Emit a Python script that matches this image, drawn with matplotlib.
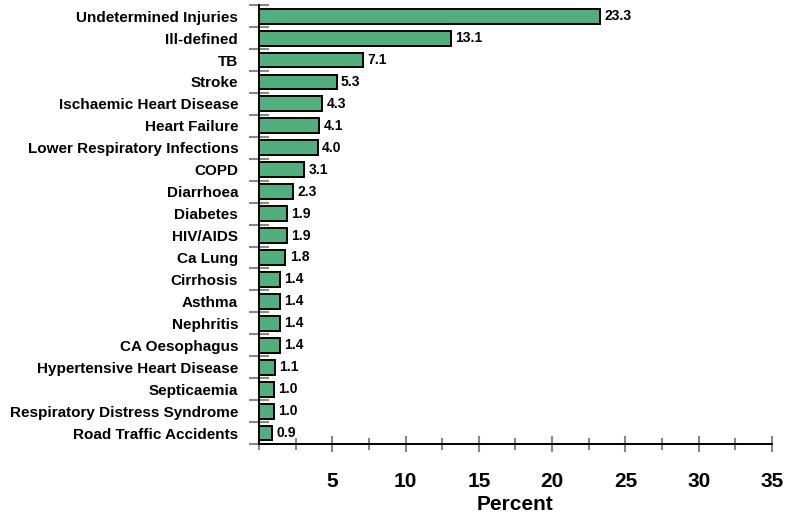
import matplotlib.pyplot as plt
from matplotlib.ticker import MultipleLocator, FixedLocator
import numpy as np

causes = ["Undetermined Injuries", "Ill-defined", "TB", "Stroke",
          "Ischaemic Heart Disease", "Heart Failure", "Lower Respiratory Infections",
          "COPD", "Diarrhoea", "Diabetes", "HIV/AIDS", "Ca Lung", "Cirrhosis",
          "Asthma", "Nephritis", "CA Oesophagus", "Hypertensive Heart Disease",
          "Septicaemia", "Respiratory Distress Syndrome", "Road Traffic Accidents"]
percent = [23.3, 13.1, 7.1, 5.3, 4.3, 4.1, 4.0, 3.1, 2.3, 1.9, 1.9, 1.8,
           1.4, 1.4, 1.4, 1.4, 1.1, 1.0, 1.0, 0.9]

plt.rcParams['font.family'] = ['Liberation Sans', 'DejaVu Sans']

fig = plt.figure(figsize=(7.86, 5.17), dpi=100)
ax = fig.add_axes([0.3295, 0.1412, 0.6526, 0.8488])

pos = np.arange(len(causes))
ax.barh(pos, percent, height=0.68, color="#52ae7f", edgecolor="black", linewidth=1.4)
for p, v in zip(pos, percent):
    ax.text(v + 0.3, p, f"{v:.1f}", va="center", ha="left", fontsize=10, fontweight="bold")

ax.set_ylim(len(causes) - 0.5, -0.5)
ax.set_xlim(0, 35)

ax.set_yticks(pos)
ax.set_yticklabels(causes, fontsize=11, fontweight="bold")
ax.yaxis.set_minor_locator(FixedLocator(np.arange(-0.5, len(causes), 1)))
ax.tick_params(axis="y", which="major", length=0, pad=15)
ax.tick_params(axis="y", which="minor", length=15, direction="inout", color="#888888", width=1.5)

ax.set_xticks([5, 10, 15, 20, 25, 30, 35])
ax.set_xticklabels(["5", "10", "15", "20", "25", "30", "35"], fontsize=15, fontweight="bold")
ax.xaxis.set_minor_locator(MultipleLocator(2.5))
ax.tick_params(axis="x", which="major", length=12, direction="inout", color="#888888", width=1.5, pad=14)
ax.tick_params(axis="x", which="minor", length=8, direction="inout", color="#888888", width=1.5)
ax.set_xlabel("Percent", fontsize=15, fontweight="bold", labelpad=3)

for s in ["top", "right"]:
    ax.spines[s].set_visible(False)
ax.spines["left"].set_linewidth(1.4)
ax.spines["bottom"].set_linewidth(1.4)

fig.savefig("out.png", dpi=100)
